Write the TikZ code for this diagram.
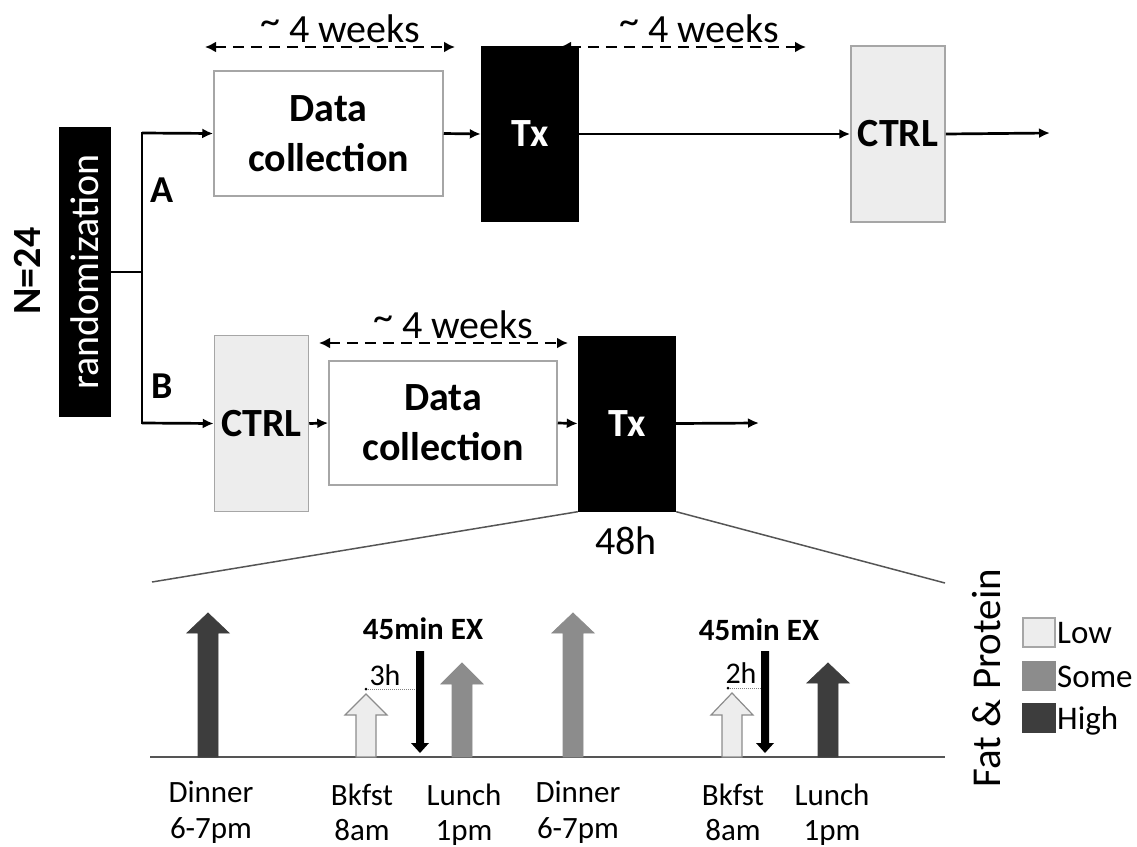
\documentclass[tikz,border=0pt]{standalone}
\usepackage{fontspec}
\setmainfont{Carlito}
\usetikzlibrary{arrows.meta}
\definecolor{lowc}{HTML}{EDEDED}
\definecolor{somec}{HTML}{8C8C8C}
\definecolor{highc}{HTML}{3D3D3D}
\definecolor{boxedge}{HTML}{A6A6A6}
\definecolor{zoomc}{HTML}{555555}
\newcommand\mealarrow[4]{%
  \filldraw[#4] (#1-10,757) -- (#1-10,#3) -- (#1-21,#3) -- (#1,#2) -- (#1+21,#3) -- (#1+10,#3) -- (#1+10,757) -- cycle;}
\newcommand\exarrow[1]{%
  \fill[black] (#1-4,651) -- (#1-4,743) -- (#1-9,743) -- (#1,753) -- (#1+9,743) -- (#1+4,743) -- (#1+4,651) -- cycle;}
\newcommand\apx{\raisebox{0.18em}{\textasciitilde}}
\begin{document}
\begin{tikzpicture}[x=1pt,y=-1pt,
  flow/.style={line width=2.7pt,-{Latex[length=11pt,width=10pt]}},
  plain/.style={line width=2.7pt},
  span/.style={line width=2.8pt,dash pattern=on 11pt off 7pt,{Latex[length=11pt,width=11pt]}-{Latex[length=11pt,width=11pt]}},
  databox/.style={draw=boxedge,line width=1.5pt,fill=white,minimum width=229pt,minimum height=125pt,align=center,font=\fontsize{40}{50}\selectfont\bfseries,inner sep=0pt},
  txbox/.style={fill=black,text=white,minimum width=98pt,minimum height=176pt,font=\fontsize{40}{48}\selectfont\bfseries,inner sep=0pt},
  ctrlbox/.style={draw=boxedge,line width=1.5pt,fill=lowc,minimum width=94pt,minimum height=176pt,font=\fontsize{40}{48}\selectfont\bfseries,inner sep=0pt},
  weeks/.style={font=\fontsize{40}{48}\selectfont,inner sep=0pt,anchor=base},
  armlbl/.style={font=\fontsize{38}{44}\selectfont\bfseries,inner sep=0pt},
  meal/.style={font=\fontsize{31}{37}\selectfont,inner sep=0pt,anchor=base},
  exlbl/.style={font=\fontsize{31}{37}\selectfont\bfseries,inner sep=0pt},
  hlbl/.style={font=\fontsize{30}{36}\selectfont,inner sep=0pt},
  legbox/.style={draw=boxedge,line width=1.2pt,minimum width=32pt,minimum height=29pt,inner sep=0pt},
  leglbl/.style={font=\fontsize{33}{40}\selectfont,inner sep=0pt,anchor=base west},
  zoomline/.style={draw=zoomc,line width=1.5pt},
  timeline/.style={draw=zoomc,line width=1.5pt},
  gap/.style={draw=gray,line width=1pt,densely dotted}]
\useasboundingbox (0,0) rectangle (1137,846);

% randomization
\node[fill=black,text=white,minimum width=290pt,minimum height=52pt,inner sep=0pt,
      rotate=90,font=\fontsize{40}{48}\selectfont] (rand) at (85,272) {randomization};
\node[rotate=90,font=\fontsize{40}{48}\selectfont\bfseries,inner sep=0pt] (n) at (27,271) {N=24};

\coordinate (br) at (142,272);
\coordinate (brA) at (142,133);
\coordinate (brB) at (142,423);
\draw[plain] (rand.south) -- (br);
\draw[plain,line cap=rect] (brA) -- (brB);
\node[armlbl] (la) at (162,190) {A};
\node[armlbl] (lb) at (162,386) {B};

% arm A
\node[databox] (dataA) at (328.5,133.5) {Data\\collection};
\node[txbox] (txA) at (530,134) {Tx};
\node[ctrlbox] (ctrlA) at (898,134) {CTRL};
\coordinate (endA) at (1050,133);
\draw[flow] (brA) -- (dataA.west);
\draw[flow] (dataA.east) -- (txA.west);
\draw[flow] (txA.east) -- (ctrlA.west);
\draw[flow] (ctrlA.east) -- (endA);

\coordinate (wA1l) at (205,47);
\coordinate (wA1r) at (455,47);
\coordinate (wA2l) at (560,47);
\coordinate (wA2r) at (806,47);
\draw[span] (wA1l) -- (wA1r);
\draw[span] (wA2l) -- (wA2r);
\node[weeks] (tA1) at (340,42) {\apx{} 4 weeks};
\node[weeks] (tA2) at (699,42) {\apx{} 4 weeks};

% arm B
\node[ctrlbox] (ctrlB) at (261.5,423.5) {CTRL};
\node[databox,minimum width=228pt,minimum height=124pt] (dataB) at (443,423) {Data\\collection};
\node[txbox] (txB) at (627,423.5) {Tx};
\coordinate (endB) at (759,423);
\draw[flow] (brB) -- (ctrlB.west);
\draw[flow] (ctrlB.east) -- (dataB.west);
\draw[flow] (dataB.east) -- (txB.west);
\draw[flow] (txB.east) -- (endB);

\coordinate (wBl) at (319,343);
\coordinate (wBr) at (568,343);
\draw[span] (wBl) -- (wBr);
\node[weeks] (tB) at (453,338) {\apx{} 4 weeks};

\node[font=\fontsize{40}{48}\selectfont,inner sep=0pt] (h48) at (626,541) {48h};

% zoom lines
\coordinate (zl) at (152,582);
\coordinate (zr) at (945,583);
\draw[zoomline] (txB.south west) -- (zl);
\draw[zoomline] (txB.south east) -- (zr);

% timeline
\coordinate (t0) at (150,757);
\coordinate (t1) at (945,757);
\draw[timeline] (t0) -- (t1);

\mealarrow{208}{613}{633}{fill=highc,draw=highc,line width=0.8pt}
\mealarrow{366}{694}{715}{fill=lowc,draw=somec,line width=1.2pt}
\mealarrow{462}{663}{684}{fill=somec,draw=somec,line width=0.8pt}
\mealarrow{573}{613}{633}{fill=somec,draw=somec,line width=0.8pt}
\mealarrow{732}{693}{715}{fill=lowc,draw=somec,line width=1.2pt}
\mealarrow{828}{663}{683}{fill=highc,draw=highc,line width=0.8pt}

\exarrow{420}
\exarrow{765}

\draw[gap] (366,689) -- (416,689);
\fill[black] (366,689) circle (1.5);
\draw[gap] (728,688) -- (761,688);
\fill[black] (728,688) circle (1.5);

\node[exlbl] (ex1) at (423,629) {45min EX};
\node[exlbl] (ex2) at (759,630) {45min EX};
\node[hlbl] (h3) at (385,675) {3h};
\node[hlbl] (h2) at (741,673) {2h};

\node[meal] (d1a) at (211,802) {Dinner};
\node[meal] (d1b) at (211,838) {6-7pm};
\node[meal] (b1a) at (362,805) {Bkfst};
\node[meal] (b1b) at (362,840) {8am};
\node[meal] (l1a) at (464,805) {Lunch};
\node[meal] (l1b) at (464,840) {1pm};
\node[meal] (d2a) at (578,802) {Dinner};
\node[meal] (d2b) at (578,838) {6-7pm};
\node[meal] (b2a) at (733,805) {Bkfst};
\node[meal] (b2b) at (733,840) {8am};
\node[meal] (l2a) at (832,805) {Lunch};
\node[meal] (l2b) at (832,840) {1pm};

% legend
\node[rotate=90,font=\fontsize{41}{49}\selectfont,inner sep=0pt] (fp) at (987,678) {Fat \& Protein};
\node[legbox,fill=lowc] (lowb) at (1039,632.5) {};
\node[legbox,fill=somec,draw=somec] (someb) at (1039,676) {};
\node[legbox,fill=highc,draw=highc] (highb) at (1039,718) {};
\node[leglbl] (lowt) at (1057,643.5) {Low};
\node[leglbl] (somet) at (1057,687) {Some};
\node[leglbl] (hight) at (1057,729) {High};
\end{tikzpicture}
\end{document}
